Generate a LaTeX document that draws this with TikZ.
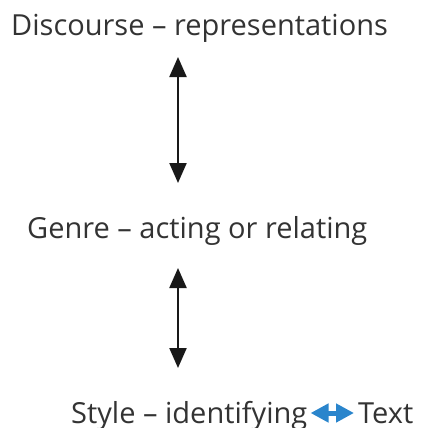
\documentclass[tikz,border=0pt]{standalone}
\usepackage{fontspec}
\setmainfont{Open Sans}
\usepackage{tikz}
\usetikzlibrary{arrows.meta, positioning, calc}
\definecolor{mygrey}{HTML}{333333}
\definecolor{myblue}{HTML}{2A85CC}
\tikzset{
level/.style={font=\fontsize{29}{32}\selectfont, text=mygrey, inner sep=0pt, anchor=base},
updown/.style={line width=2.2pt, black!90, >={Triangle[length=20pt,width=17pt]}, <->},
sideways/.style={line width=5pt, myblue, >={Triangle[length=18pt,width=18pt]}, <->}
}

\begin{document}
\begin{tikzpicture}[x=1pt,y=1pt]
\useasboundingbox (0,0) rectangle (426,-428);

\node[level, anchor=base west] (disc) at (11,-36) {Discourse -- representations};
\node[level, anchor=base west] (genre) at (27,-238) {Genre -- acting or relating};
\node[level, anchor=base west] (style) at (71,-423) {Style -- identifying};
\node[level, anchor=base west] (text) at (358,-423) {Text};

% vertical links
\draw[updown] ([yshift=-21pt]disc.base west -| 178,0) -- ([yshift=55pt]genre.base west -| 178,0);
\draw[updown] ([yshift=-30pt]genre.base west -| 178,0) -- ([yshift=55pt]style.base west -| 178,0);

% blue link
\draw[sideways] ([xshift=3pt,yshift=10pt]style.base east) -- ([xshift=-4pt,yshift=10pt]text.base west);
\end{tikzpicture}
\end{document}
